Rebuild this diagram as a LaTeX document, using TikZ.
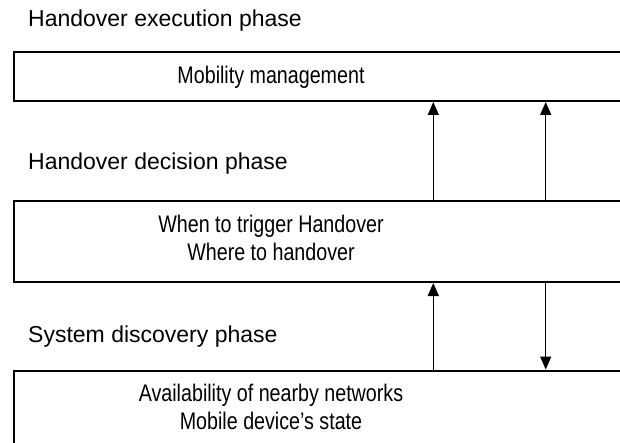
\documentclass[tikz,border=0pt]{standalone}
\usepackage{fontspec}
\setmainfont{Liberation Sans}
\usetikzlibrary{arrows.meta}
\begin{document}
\begin{tikzpicture}[x=1pt,y=1pt,
  phasebox/.style={draw=black, line width=2pt, rectangle, inner sep=0pt, anchor=north west, minimum width=640pt},
  boxline/.style={font=\fontsize{24}{28}\selectfont, anchor=base, inner sep=0pt},
  phaselabel/.style={font=\fontsize{23}{27.5}\selectfont, anchor=base west, inner sep=0pt},
  flow/.style={line width=1.4pt, -{Triangle[length=13pt,width=11pt]}}]
\useasboundingbox (0,0) rectangle (620,-443);
\clip (0,0) rectangle (620,-443);

% phase titles
\node[phaselabel] (lexec) at (28,-26.5) {Handover execution phase};
\node[phaselabel] (ldec)  at (28,-170)  {Handover decision phase};
\node[phaselabel] (ldisc) at (28,-342.5)  {System discovery phase};

% boxes (they run past the right edge)
\node[phasebox, minimum height=49pt] (mm)  at (12.5,-51)   {};
\node[phasebox, minimum height=80.5pt] (dec) at (12.5,-200.5) {};
\node[phasebox, minimum height=90pt] (disc) at (12.5,-369.5) {};

% box contents, one node per line
\node[boxline] (tmm)    at (271,-84)    {\scalebox{0.82}[1]{Mobility management}};
\node[boxline] (tdec1)  at (271,-233)   {\scalebox{0.82}[1]{When to trigger Handover}};
\node[boxline] (tdec2)  at (271,-260.5) {\scalebox{0.82}[1]{Where to handover}};
\node[boxline] (tdisc1) at (271,-401.7) {\scalebox{0.82}[1]{Availability of nearby networks}};
\node[boxline] (tdisc2) at (271,-429.5) {\scalebox{0.82}[1]{Mobile device's state}};

% arrows between the phases
\coordinate (a1) at (433.3,0);
\coordinate (a2) at (545.7,0);
\draw[flow] (a1 |- dec.north) -- (a1 |- mm.south);
\draw[flow] (a2 |- dec.north) -- (a2 |- mm.south);
\draw[flow] (a1 |- disc.north) -- (a1 |- dec.south);
\draw[flow] (a2 |- dec.south) -- (a2 |- disc.north);
\end{tikzpicture}
\end{document}
